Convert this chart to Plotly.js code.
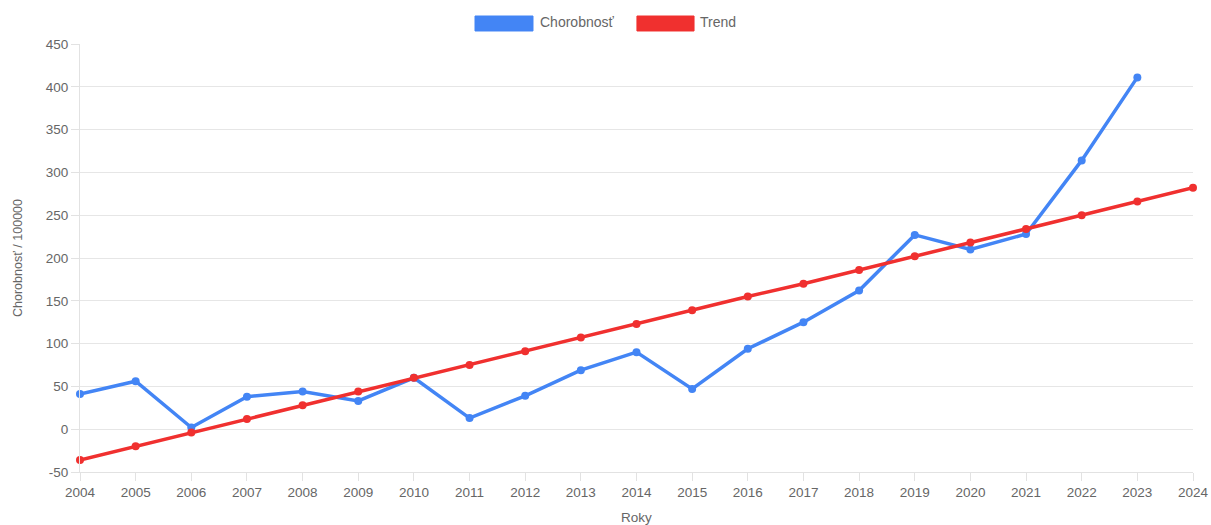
<!DOCTYPE html>
<html>
<head>
<meta charset="utf-8">
<script src="https://cdn.plot.ly/plotly-3.0.1.min.js"></script>
<style>html,body{margin:0;padding:0;background:#fff;}#chart{width:1211px;height:525px;}</style>
</head>
<body>
<div id="chart"></div>
<script>
const years = [2004,2005,2006,2007,2008,2009,2010,2011,2012,2013,2014,2015,2016,2017,2018,2019,2020,2021,2022,2023,2024];
const morbidityYears = [2004,2005,2006,2007,2008,2009,2010,2011,2012,2013,2014,2015,2016,2017,2018,2019,2020,2021,2022,2023];
const morbidity = [41,56,2,38,44,33,60,13,39,69,90,47,94,125,162,227,210,228,314,411];
const trend = [-36,-20,-4,12,28,44,60,75,91,107,123,139,155,170,186,202,218,234,250,266,282];
const yTickVals = [-50,0,50,100,150,200,250,300,350,400,450];
const yTickText = ['-50','0','50','100','150','200','250','300','350','400','450'];
const seriesNames = ['Chorobnosť','Trend'];
const seriesColors = ['#4385f5','#f0302f'];
const yTitle = 'Chorobnosť / 100000';
const xTitle = 'Roky';

const font = 'Arial, "Liberation Sans", sans-serif';
const traces = [
  {x: morbidityYears, y: morbidity, name: seriesNames[0], type:'scatter', mode:'lines+markers', cliponaxis:false,
   line:{color:seriesColors[0], width:3.5}, marker:{color:seriesColors[0], size:8}, showlegend:false},
  {x: years, y: trend, name: seriesNames[1], type:'scatter', mode:'lines+markers', cliponaxis:false,
   line:{color:seriesColors[1], width:3.5}, marker:{color:seriesColors[1], size:8}, showlegend:false}
];

// legend drawn as Chart.js-style boxes (paper coords)
const legendBoxes = [[0.3549,0.4070],[0.5004,0.5517]];
const legendTextX = [0.4115,0.5553];
const shapes = legendBoxes.map((b,i)=>({type:'rect', xref:'paper', yref:'paper', x0:b[0], x1:b[1], y0:1.0304, y1:1.0654,
  fillcolor:seriesColors[i], line:{color:seriesColors[i], width:1}}));
const annotations = seriesNames.map((n,i)=>({xref:'paper', yref:'paper', x:legendTextX[i], y:1.051, xanchor:'left', yanchor:'middle',
  text:n, showarrow:false, font:{family:font, size:14, color:'#666'}}));

const layout = {
  width:1211, height:525,
  margin:{l:80, r:18, t:44, b:53},
  paper_bgcolor:'#fff', plot_bgcolor:'#fff',
  font:{family:font, size:13, color:'#666'},
  showlegend:false,
  xaxis:{range:[2004,2024], dtick:1, tick0:2004, showgrid:false, zeroline:false,
    showline:true, linecolor:'#e2e2e2', linewidth:1,
    ticks:'outside', ticklen:8, tickcolor:'#e2e2e2', tickfont:{family:font, size:13.5, color:'#666'},
    title:{text:xTitle, font:{family:font, size:13.5, color:'#666'}, standoff:15}},
  yaxis:{range:[-50,450], tickmode:'array', tickvals:yTickVals, ticktext:yTickText, showgrid:true, gridcolor:'#e6e6e6', zeroline:false,
    showline:true, linecolor:'#e2e2e2', linewidth:1,
    ticks:'outside', ticklen:8, tickcolor:'#e2e2e2', tickfont:{family:font, size:13.5, color:'#666'},
    title:{text:yTitle, font:{family:font, size:12.5, color:'#666'}, standoff:20}},
  shapes: shapes,
  annotations: annotations
};
Plotly.newPlot('chart', traces, layout, {displayModeBar:false, staticPlot:true});
</script>
</body>
</html>
